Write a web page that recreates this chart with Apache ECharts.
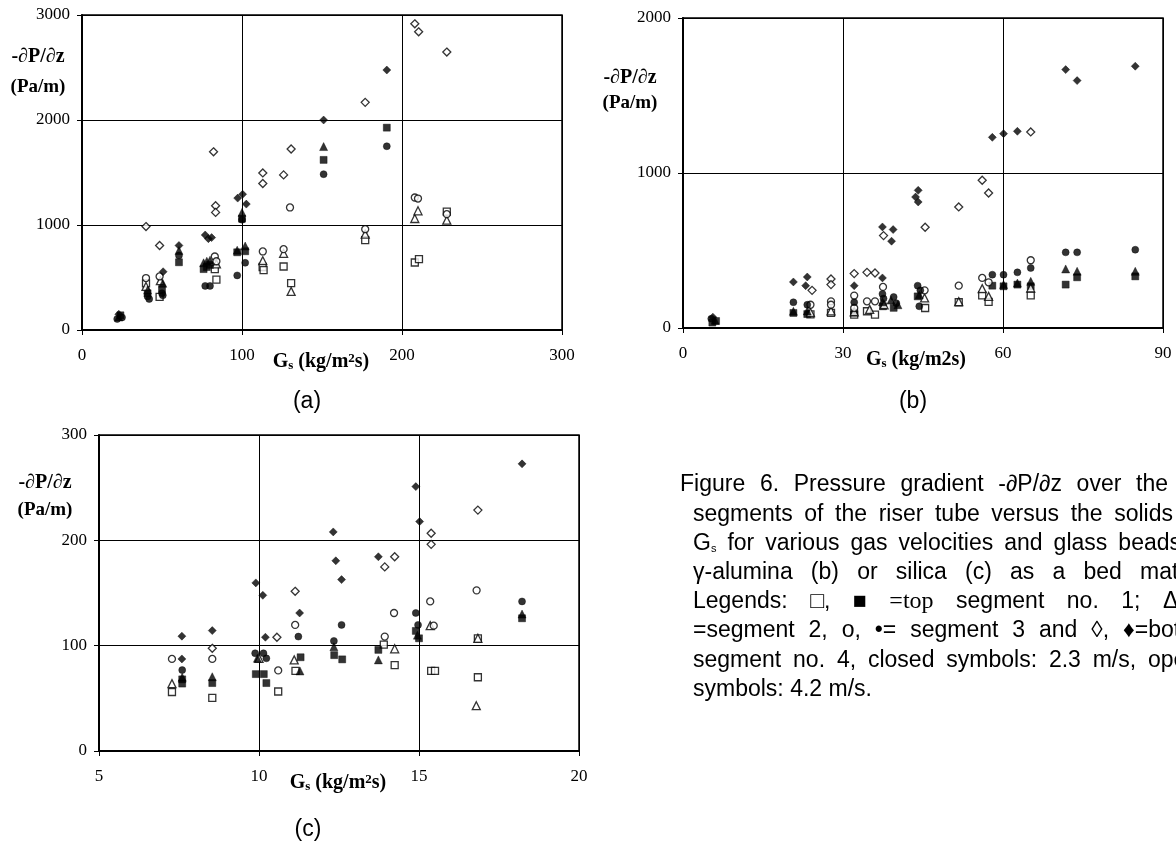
<!DOCTYPE html>
<html><head><meta charset="utf-8">
<script src="https://cdn.jsdelivr.net/npm/echarts@6/dist/echarts.min.js"></script>
<style>html,body{margin:0;padding:0;background:#fff}#c{width:1176px;height:846px}</style>
</head><body><div id="c"></div>
<script>
// ---------- DATA ----------
// panel (a): glass beads
const aXTicks = [0, 100, 200, 300];
const aYTicks = [0, 1000, 2000, 3000];
const aOpenSquare = [[40,445],[48.5,315],[83,580],[84,480],[112.9,600],[113.5,570],[126,605],[130.7,447],[177,856],[208,643],[210.6,675],[228,1128]];
const aFilledSquare = [[24,140],[41,350],[50,390],[60.6,645],[76,580],[78,600],[80,620],[97,740],[100,1060],[102,750],[151,1620],[190.5,1927]];
const aOpenTriangle = [[40,415],[49,470],[84,630],[113,660],[126,729],[130.7,368],[177,913],[208,1062],[210,1135],[228,1046]];
const aFilledTriangle = [[23,125],[41,380],[50.5,445],[60.6,757],[76,640],[78,655],[80,665],[97,760],[100,1120],[102,800],[151,1747]];
const aOpenCircle = [[40,495],[48.5,510],[83,700],[84,655],[113,748],[126,770],[130,1167],[177,960],[208,1262],[210,1252],[228,1103]];
const aFilledCircle = [[22,105],[25,120],[41,320],[42,295],[50,350],[50.5,330],[60.6,710],[77,420],[80,420],[97,520],[100,1050],[102,640],[151,1484],[190.5,1750]];
const aOpenDiamond = [[40,985],[48.5,805],[82.2,1697],[83.5,1183],[83.5,1120],[113,1496],[113,1395],[126,1477],[130.7,1724],[177,2168],[208,2916],[210.4,2840],[228,2647]];
const aFilledDiamond = [[23,150],[50.7,555],[60.6,805],[77,905],[79,870],[81,880],[97.3,1256],[100.4,1293],[102.7,1199],[151,2000],[190.5,2476]];

// panel (b): gamma-alumina
const bXTicks = [0, 30, 60, 90];
const bYTicks = [0, 1000, 2000];
const bOpenSquare = [[23.9,88],[27.75,97],[32.1,86],[34.5,108],[36,86],[45.4,129],[51.7,166],[56.1,211],[57.3,168],[65.2,211]];
const bFilledSquare = [[5.5,35],[6.2,45],[20.7,97],[23.3,90],[32.1,100],[37.5,140],[39.5,130],[44,204],[58,273],[60.1,269],[62.7,280],[65.2,269],[71.75,280],[73.9,327],[84.8,333]];
const bOpenTriangle = [[23.9,100],[27.75,110],[32.1,105],[35,120],[37.7,150],[45.3,194],[51.7,170],[56.1,254],[57.3,204],[65.2,258]];
const bFilledTriangle = [[6,50],[20.7,108],[23.3,110],[37.4,170],[39,180],[40.3,150],[44.3,215],[60.1,280],[62.7,290],[65.2,301],[71.75,381],[73.9,366],[84.8,366]];
const bOpenCircle = [[23.9,150],[27.75,172],[27.75,150],[32.1,209],[32.1,129],[34.5,172],[36,172],[37.5,265],[45.3,243],[51.7,273],[56.1,323],[57.3,295],[65.2,437]];
const bFilledCircle = [[5.3,60],[20.7,166],[23.3,150],[32.1,166],[37.4,220],[37.6,190],[39.5,200],[40,160],[44,273],[44.5,243],[44.3,140],[58,344],[60.1,344],[62.7,359],[65.2,387],[71.75,488],[73.9,488],[84.8,505]];
const bOpenDiamond = [[24.2,243],[27.75,316],[27.75,280],[32.1,351],[34.5,359],[36,355],[37.6,596],[45.4,650],[51.7,781],[56.1,953],[57.3,871],[65.2,1265]];
const bFilledDiamond = [[5.6,70],[20.7,297],[23.3,329],[23,273],[32.1,273],[37.4,323],[37.4,652],[39.4,635],[39.1,560],[44.1,888],[43.6,845],[44.1,813],[58,1230],[60.1,1254],[62.7,1269],[71.75,1667],[73.9,1596],[84.8,1689]];

// panel (c): silica
const cXTicks = [5, 10, 15, 20];
const cYTicks = [0, 100, 200, 300];
const cOpenSquare = [[7.28,56],[8.54,50.5],[10.6,56.5],[11.14,76],[13.9,101],[14.24,81.5],[15.38,76],[15.5,76],[16.84,107],[16.84,70]];
const cFilledSquare = [[7.6,68],[7.6,64],[8.54,64.5],[9.9,73],[10.15,73],[10.23,64.5],[11.3,89],[12.35,91],[12.6,87],[13.73,96],[14.9,114],[15,107],[18.22,126]];
const cOpenTriangle = [[7.28,64],[10.0,88],[11.1,86.5],[14.24,97],[15.35,119],[16.84,107],[16.79,43]];
const cFilledTriangle = [[7.6,70],[8.54,70.5],[9.95,88],[11.28,76],[12.34,99],[13.73,86.5],[14.95,110],[18.22,130]];
const cOpenCircle = [[7.28,87.4],[8.54,87.4],[10.6,76.5],[11.13,119.7],[13.93,108.6],[14.22,131],[15.35,142],[15.46,119],[16.8,152.5]];
const cFilledCircle = [[7.6,76.8],[9.88,92.8],[10.14,92.8],[10.23,88],[11.23,108.6],[12.34,104.5],[12.58,119.7],[14.9,131],[14.97,119.7],[18.22,142]];
const cOpenDiamond = [[8.54,97.5],[10.56,108],[11.13,151.6],[13.93,174.8],[14.24,184.4],[15.38,206.7],[15.38,196.2],[16.84,228.7]];
const cFilledDiamond = [[7.59,87.4],[7.59,109],[8.54,114.3],[9.9,159.6],[10.12,147.8],[10.2,108],[11.27,131],[12.32,208],[12.4,180.6],[12.58,162.7],[13.73,184.4],[14.9,251],[15.02,217.8],[18.22,272.6]];

// text
const yTitle1 = '-\u2202P/\u2202z';
const yTitle2 = '(Pa/m)';
const panelLabels = ['(a)', '(b)', '(c)'];
const captionLines = [
  ['Figure','6.','Pressure','gradient','-\u2202P/\u2202z','over','the'],
  ['segments','of','the','riser','tube','versus','the','solids'],
  ['{n|G}{s|s}','for','various','gas','velocities','and','glass','beads'],
  ['\u03b3-alumina','(b)','or','silica','(c)','as','a','bed','material.'],
  ['Legends:','\u25a1,','\u25a0','{t|=top}','segment','no.','1;','\u0394,'],
  ['=segment','2,','o,','\u2022=','segment','3','and','\u25ca,','\u2666=bottom'],
  ['segment','no.','4,','closed','symbols:','2.3','m/s,','open'],
  ['symbols:','4.2','m/s.']
];

// ---------- LAYOUT ----------
const grids = [
  {left: 82, top: 15, width: 480, height: 315},
  {left: 683, top: 18, width: 480, height: 310},
  {left: 99, top: 435, width: 480, height: 316}
];
const SERIF = '"Liberation Serif", "Times New Roman", serif';
const SANS = '"Liberation Sans", Arial, sans-serif';

function xAxis(gi, t) {
  return {type: 'value', gridIndex: gi, min: t[0], max: t[t.length - 1], interval: t[1] - t[0],
    axisLine: {show: true, onZero: false, lineStyle: {color: '#000', width: 2}},
    axisTick: {show: true, length: 5, lineStyle: {color: '#000', width: 1}},
    splitLine: {show: true, lineStyle: {color: '#000', width: 1}},
    axisLabel: {color: '#000', fontFamily: SERIF, fontSize: 17, margin: 17, formatter: v => String(v)}};
}
function yAxis(gi, t) {
  return {type: 'value', gridIndex: gi, min: t[0], max: t[t.length - 1], interval: t[1] - t[0],
    axisLine: {show: true, onZero: false, lineStyle: {color: '#000', width: 2}},
    axisTick: {show: true, length: 5, lineStyle: {color: '#000', width: 1}},
    splitLine: {show: true, lineStyle: {color: '#000', width: 1}},
    axisLabel: {color: '#000', fontFamily: SERIF, fontSize: 17, margin: 12, formatter: v => String(v)}};
}
function sc(gi, data, symbol, filled, size) {
  return {type: 'scatter', xAxisIndex: gi, yAxisIndex: gi, data: data, symbol: symbol, symbolSize: size,
    silent: true, animation: false,
    itemStyle: filled ? {color: '#000', borderColor: '#000', borderWidth: 0.5}
                      : {color: '#fff', borderColor: '#000', borderWidth: 1.3}};
}
const panels = [
  [aOpenSquare, aFilledSquare, aOpenTriangle, aFilledTriangle, aOpenCircle, aFilledCircle, aOpenDiamond, aFilledDiamond],
  [bOpenSquare, bFilledSquare, bOpenTriangle, bFilledTriangle, bOpenCircle, bFilledCircle, bOpenDiamond, bFilledDiamond],
  [cOpenSquare, cFilledSquare, cOpenTriangle, cFilledTriangle, cOpenCircle, cFilledCircle, cOpenDiamond, cFilledDiamond]
];
const symDefs = [['rect', false, 7], ['rect', true, 7], ['triangle', false, 8], ['triangle', true, 8],
                 ['circle', false, 7], ['circle', true, 7], ['diamond', false, 8], ['diamond', true, 8]];
const series = [];
panels.forEach((p, gi) => p.forEach((d, k) => series.push(sc(gi, d, symDefs[k][0], symDefs[k][1], symDefs[k][2]))));

// ---------- TEXT GRAPHICS ----------
const graphic = [];
function txt(x, y, text, font, align, rich) {
  const st = {text: text, x: x, y: y, font: font, fill: '#000', textAlign: align || 'center', textVerticalAlign: 'middle', verticalAlign: 'middle'};
  if (rich) st.rich = rich;
  graphic.push({type: 'text', silent: true, style: st});
}
// y titles
const yT = [[38, 57, 87], [630, 78, 103], [45, 483, 510]];
yT.forEach(p => { txt(p[0], p[1], yTitle1, 'bold 20px ' + SERIF); txt(p[0], p[2], yTitle2, 'bold 19px ' + SERIF); });
// x titles
const xRich = {
  b: {fontFamily: SERIF, fontWeight: 'bold', fontSize: 20, verticalAlign: 'middle'},
  s: {fontFamily: SERIF, fontWeight: 'bold', fontSize: 13, verticalAlign: 'bottom'},
  p: {fontFamily: SERIF, fontWeight: 'bold', fontSize: 13, verticalAlign: 'top'}
};
txt(321, 362, '{b|G}{s|s}{b| (kg/m}{p|2}{b|s)}', 'bold 20px ' + SERIF, 'center', xRich);
txt(916, 360, '{b|G}{s|s}{b| (kg/m2s)}', 'bold 20px ' + SERIF, 'center', xRich);
txt(338, 783, '{b|G}{s|s}{b| (kg/m}{p|2}{b|s)}', 'bold 20px ' + SERIF, 'center', xRich);
// panel labels
const pl = [[307, 402], [913, 402], [308, 830]];
pl.forEach((p, i) => txt(p[0], p[1], panelLabels[i], '23px ' + SANS));

// caption (justified lines, clipped at page edge)
const capFont = '23px ' + SANS;
const capRich = {
  n: {fontFamily: SANS, fontSize: 23},
  s: {fontFamily: SANS, fontSize: 11, verticalAlign: 'bottom'},
  t: {fontFamily: SERIF, fontSize: 24}
};
const capStartX = [680, 693, 693, 693, 693, 693, 693, 693];
const capY0 = 485, capDy = 29.2;
const capJust = [['end', 1168], ['end', 1173], ['end', 1181], ['last', 1140], ['last', 1163], ['last', 1123], ['last', 1148], null];
const mctx = document.createElement('canvas').getContext('2d');
function wordWidth(w) {
  if (w.indexOf('{n|G}') === 0) {
    mctx.font = '23px ' + SANS; let a = mctx.measureText('G').width;
    mctx.font = '11px ' + SANS; return a + mctx.measureText('s').width;
  }
  if (w.indexOf('{t|') === 0) { mctx.font = '24px ' + SERIF; return mctx.measureText(w.slice(3, -1)).width; }
  mctx.font = capFont; return mctx.measureText(w).width;
}
captionLines.forEach((words, li) => {
  const y = capY0 + li * capDy;
  const widths = words.map(wordWidth);
  const x0 = capStartX[li];
  let gap;
  mctx.font = capFont;
  const sp = mctx.measureText(' ').width;
  const j = capJust[li];
  if (!j) gap = sp;
  else {
    const lastStart = j[0] === 'end' ? j[1] - widths[widths.length - 1] : j[1];
    let sum = 0; for (let i = 0; i < widths.length - 1; i++) sum += widths[i];
    gap = (lastStart - x0 - sum) / (words.length - 1);
  }
  let x = x0;
  words.forEach((w, i) => {
    txt(x, y, w, capFont, 'left', capRich);
    x += widths[i] + gap;
  });
});

const chart = echarts.init(document.getElementById('c'), null, {renderer: 'canvas', width: 1176, height: 846});
chart.setOption({
  animation: false,
  backgroundColor: '#fff',
  grid: grids.map(g => Object.assign({show: true, borderColor: '#000', borderWidth: 1.5, backgroundColor: 'transparent', containLabel: false}, g)),
  xAxis: [xAxis(0, aXTicks), xAxis(1, bXTicks), xAxis(2, cXTicks)],
  yAxis: [yAxis(0, aYTicks), yAxis(1, bYTicks), yAxis(2, cYTicks)],
  series: series,
  graphic: graphic
});
</script></body></html>
